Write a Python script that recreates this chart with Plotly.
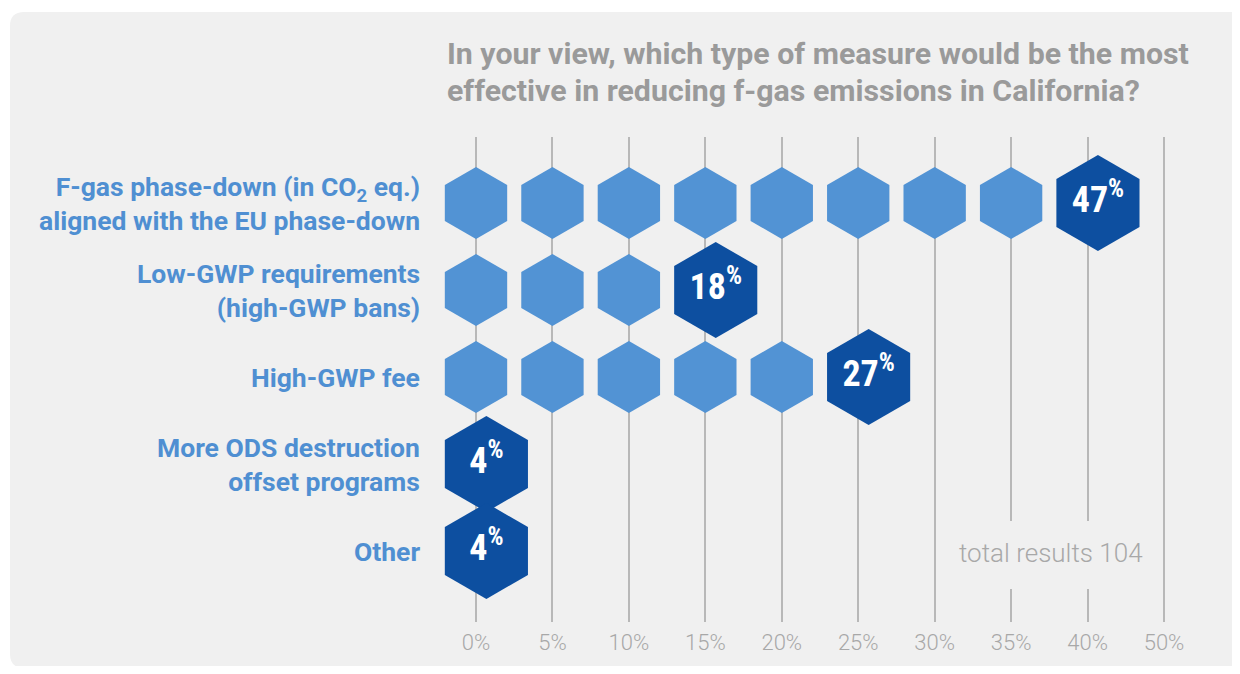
import math
import plotly.graph_objects as go

# ---------------- data ----------------
categories = [
    "F-gas phase-down (in CO<sub>2</sub> eq.)<br>aligned with the EU phase-down",
    "Low-GWP requirements<br>(high-GWP bans)",
    "High-GWP fee",
    "More ODS destruction<br>offset programs",
    "Other",
]
percentages = [47, 18, 27, 4, 4]
# grid slot (axis value) where the dark, labelled hexagon sits in each row
dark_slot = [40, 15, 25, 0, 0]
tick_values = [0, 5, 10, 15, 20, 25, 30, 35, 40, 45]
tick_labels = ["0%", "5%", "10%", "15%", "20%", "25%", "30%", "35%", "40%", "50%"]
title_lines = ["In your view, which type of measure would be the most",
               "effective in reducing f-gas emissions in California?"]
total_note = "total results 104"
step = 5

# ---------------- geometry / style ----------------
OFF = 8                      # page body margin
W, H = 1240 - OFF, 674 - 2 * OFF
M_T, M_B = 137 - OFF, H - (622 - OFF)
PLOT_H = H - M_T - M_B
X0_PX, X45_PX = 476 - OFF, 1164 - OFF
PPU_X = (X45_PX - X0_PX) / 45.0
ROW0_PX, ROW_PX = 203 - OFF, 87
x_range = [(0 - X0_PX) / PPU_X, (W - X0_PX) / PPU_X]
y_range = [(H - M_B - ROW0_PX) / ROW_PX, (M_T - ROW0_PX) / ROW_PX]


def xd(ref_px):
    return (ref_px - OFF - X0_PX) / PPU_X


def yd(ref_px):
    return (ref_px - OFF - ROW0_PX) / ROW_PX


def yp(ref_px):
    return (H - M_B - (ref_px - OFF)) / PLOT_H


LIGHT = "#5293d4"
DARK = "#0d4fa0"
LABEL_BLUE = "#4f8fd2"
GRAY_TXT = "#9a9a9a"
PANEL = "#f0f0f0"
FONT = "Roboto, sans-serif"
FONT_C = "Roboto Condensed, Roboto, sans-serif"

R_LIGHT, R_DARK = 36, 48
TITLE_LINE_PX = 37


def hexagon(cx, cy, r_px):
    xs, ys = [], []
    for k in range(7):
        a = math.radians(90 - 60 * k)
        xs.append(cx + r_px * math.cos(a) / PPU_X)
        ys.append(cy - r_px * math.sin(a) / ROW_PX)
    return xs, ys


fig = go.Figure()
label_x, label_y, label_t = [], [], []
for i, (pct, slot) in enumerate(zip(percentages, dark_slot)):
    for gx in range(0, slot, step):
        xs, ys = hexagon(gx, i, R_LIGHT)
        fig.add_trace(go.Scatter(x=xs, y=ys, mode="lines", fill="toself",
                                 fillcolor=LIGHT, line=dict(width=0, color=LIGHT),
                                 hoverinfo="skip", showlegend=False))
    # dark hexagon left-aligned with the light ones
    shift = (R_DARK - R_LIGHT) * math.sqrt(3) / 2 / PPU_X
    cx = slot + shift
    xs, ys = hexagon(cx, i, R_DARK)
    fig.add_trace(go.Scatter(x=xs, y=ys, mode="lines", fill="toself",
                             fillcolor=DARK, line=dict(width=0, color=DARK),
                             hoverinfo="skip", showlegend=False))
    label_x.append(cx)
    label_y.append(i)
    label_t.append(f"<b>{pct}<sup>%</sup></b>")

fig.add_trace(go.Scatter(x=label_x, y=label_y, mode="text", text=label_t,
                         textposition="middle center",
                         textfont=dict(family=FONT_C, size=36, color="white"),
                         hoverinfo="skip", showlegend=False))

annotations = []
for i, cat in enumerate(categories):
    annotations.append(dict(x=xd(422), y=i, xref="x", yref="y",
                            text=f"<b>{cat}</b>", showarrow=False, xanchor="right",
                            align="right", yanchor="middle",
                            font=dict(family=FONT, size=26.5, color=LABEL_BLUE)))

for k, line in enumerate(title_lines):
    annotations.append(dict(x=(445 - OFF) / W, y=yp(54 + k * TITLE_LINE_PX),
                            xref="paper", yref="paper",
                            text=f"<b>{line}</b>", showarrow=False,
                            xanchor="left", yanchor="middle", align="left",
                            font=dict(family=FONT, size=30.3, color=GRAY_TXT)))

annotations.append(dict(x=xd(1145), y=yd(553), xref="x", yref="y",
                        text=total_note, showarrow=False, xanchor="right", yanchor="middle",
                        font=dict(family=FONT, size=26, color="#a8a8a8", weight=300)))

# rounded panel
px0, px1 = (10 - OFF) / W, (W + 20) / W
py0, py1 = yp(668), yp(12)
rx, ry = 14 / W, 14 / PLOT_H
panel_path = (f"M {px0 + rx} {py1} L {px1} {py1} L {px1} {py0} L {px0 + rx} {py0} "
              f"Q {px0} {py0} {px0} {py0 + ry} L {px0} {py1 - ry} Q {px0} {py1} {px0 + rx} {py1} Z")

shapes = [
    dict(type="path", path=panel_path, xref="paper", yref="paper",
         fillcolor=PANEL, line=dict(width=0), layer="below"),
    dict(type="rect", xref="x", yref="y", x0=31, x1=43, y0=yd(521), y1=yd(589),
         fillcolor=PANEL, line=dict(width=0), layer="above"),
]

fig.update_layout(
    width=W, height=H,
    margin=dict(l=0, r=0, t=M_T, b=M_B, pad=0),
    paper_bgcolor="white", plot_bgcolor="rgba(0,0,0,0)",
    xaxis=dict(range=x_range, tickvals=tick_values, ticktext=tick_labels,
               showgrid=True, gridcolor="#b8b8b8", gridwidth=1.5, zeroline=False,
               showline=False, ticks="", ticklabelstandoff=5,
               tickfont=dict(family=FONT, size=22, color="#a8a8a8", weight=300),
               fixedrange=True),
    yaxis=dict(range=y_range, showgrid=False, zeroline=False, showticklabels=False,
               showline=False, fixedrange=True),
    annotations=annotations, shapes=shapes, showlegend=False,
)

fig.write_html("out.html")
